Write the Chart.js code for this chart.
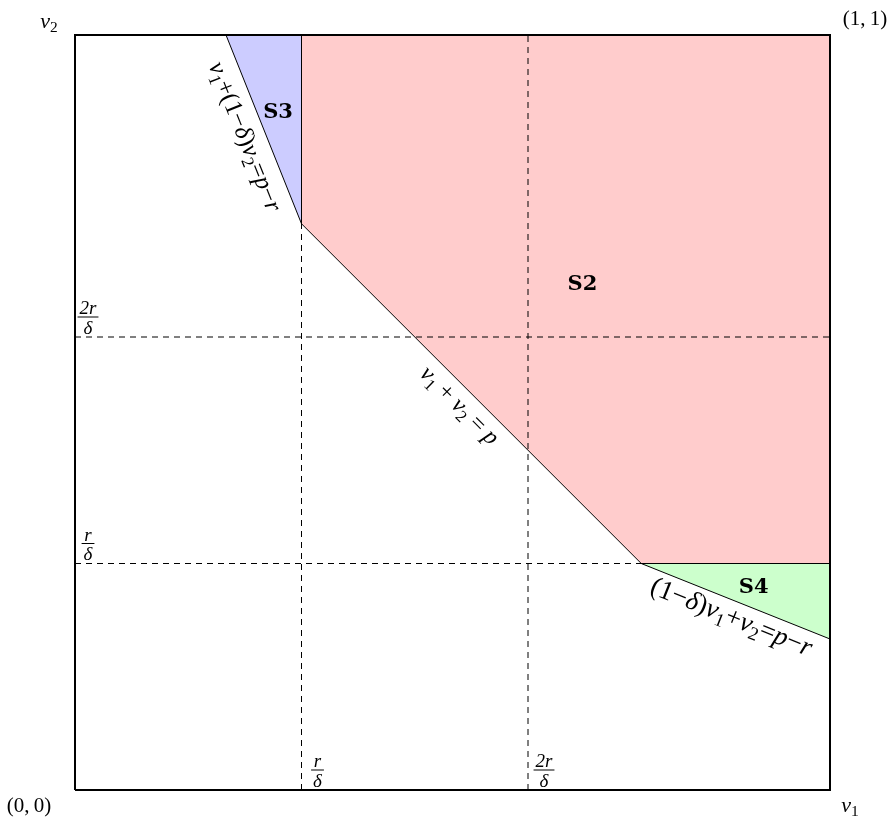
<!DOCTYPE html>
<html>
<head>
<meta charset="utf-8">
<script src="https://cdn.jsdelivr.net/npm/chart.js@4"></script>
<style>
  html, body { margin: 0; padding: 0; background: #fff; }
  canvas { display: block; }
</style>
</head>
<body>
<canvas id="chart" width="895" height="825"></canvas>
<script>
// thresholds r/δ and 2r/δ on both axes
const cuts = [0.3, 0.6];
const cutLabels = [["r", "δ"], ["2r", "δ"]];

// regions (polygon corners in (v1, v2))
const regionS2 = [[0.3, 1], [1, 1], [1, 0.3], [0.75, 0.3], [0.3, 0.75]];
const regionS3 = [[0.2, 1], [0.3, 1], [0.3, 0.75]];
const regionS4 = [[0.75, 0.3], [1, 0.3], [1, 0.2]];

// solid boundary lines
const boundary = [[0.2, 1], [0.3, 0.75], [0.75, 0.3], [1, 0.2]];
const splitS3 = [[0.3, 0.75], [0.3, 1]];
const splitS4 = [[0.75, 0.3], [1, 0.3]];
const square = [[0, 0], [1, 0], [1, 1], [0, 1], [0, 0]];

// region names and where they sit
const regionNames = ["S2", "S3", "S4"];
const regionNamePos = [[0.672, 0.669], [0.269, 0.897], [0.899, 0.2675]];

const toXY = (arr) => arr.map(([x, y]) => ({ x, y }));

// small helper to draw math-like text with subscripts
function mathParts(ctx, parts, size) {
  let w = 0;
  const out = parts.map((p) => {
    const s = p.sub ? size * 0.7 : size;
    const style = p.s === "i" ? "italic " : "";
    const font = style + s + 'px "Liberation Serif", serif';
    ctx.font = font;
    const pw = ctx.measureText(p.t).width;
    const item = { t: p.t, font, x: w, dy: p.sub ? size * 0.28 : 0 };
    w += pw;
    return item;
  });
  return { items: out, width: w };
}

function drawMath(ctx, parts, x, y, size, angle) {
  const m = mathParts(ctx, parts, size);
  ctx.save();
  ctx.translate(x, y);
  ctx.rotate(angle || 0);
  ctx.fillStyle = "#000";
  ctx.textBaseline = "middle";
  ctx.textAlign = "left";
  m.items.forEach((it) => {
    ctx.font = it.font;
    ctx.fillText(it.t, it.x - m.width / 2, it.dy);
  });
  ctx.restore();
}

function drawFrac(ctx, num, den, cx, barY, size) {
  ctx.save();
  ctx.fillStyle = "#000";
  ctx.textAlign = "center";
  ctx.font = "italic " + size + 'px "Liberation Serif", serif';
  const w = Math.max(ctx.measureText(num).width, ctx.measureText(den).width) + 4;
  ctx.textBaseline = "alphabetic";
  ctx.fillText(num, cx, barY - 3);
  ctx.textBaseline = "top";
  ctx.fillText(den, cx, barY + 2);
  ctx.fillRect(cx - w / 2, barY - 0.5, w, 1);
  ctx.restore();
}

const I = (t) => ({ t, s: "i" });
const R = (t) => ({ t, s: "r" });
const Sub = (t) => ({ t, s: "r", sub: true });

const lineLabels = [
  { seg: 0, pos: [0.224, 0.865], size: 25, parts: [I("v"), Sub("1"), R("+(1−"), I("δ"), R(")"), I("v"), Sub("2"), R("="), I("p"), R("−"), I("r")] },
  { seg: 1, pos: [0.5086, 0.5086], size: 24, parts: [I("v"), Sub("1"), R(" + "), I("v"), Sub("2"), R(" = "), I("p")] },
  { seg: 2, pos: [0.869, 0.228], size: 27, parts: [R("(1−"), I("δ"), R(")"), I("v"), Sub("1"), R("+"), I("v"), Sub("2"), R("="), I("p"), R("−"), I("r")] }
];

const labelPlugin = {
  id: "labels",
  afterDatasetsDraw(chart) {
    const ctx = chart.ctx;
    const xs = chart.scales.x;
    const ys = chart.scales.y;
    const px = (v) => xs.getPixelForValue(v);
    const py = (v) => ys.getPixelForValue(v);

    // region names
    regionNames.forEach((name, i) => {
      ctx.save();
      ctx.font = 'bold 21px "DejaVu Serif", serif';
      ctx.fillStyle = "#000";
      ctx.textAlign = "center";
      ctx.textBaseline = "middle";
      ctx.fillText(name, px(regionNamePos[i][0]), py(regionNamePos[i][1]));
      ctx.restore();
    });

    // labels along the boundary lines
    lineLabels.forEach((l) => {
      const a = boundary[l.seg];
      const b = boundary[l.seg + 1];
      const ang = Math.atan2(py(b[1]) - py(a[1]), px(b[0]) - px(a[0]));
      drawMath(ctx, l.parts, px(l.pos[0]), py(l.pos[1]), l.size, ang);
    });

    // threshold fractions
    cuts.forEach((c, i) => {
      drawFrac(ctx, cutLabels[i][0], cutLabels[i][1], px(c) + 16, py(0) - 20, 19);
      drawFrac(ctx, cutLabels[i][0], cutLabels[i][1], px(0) + 13, py(c) - 20, 19);
    });

    // corner / axis labels
    drawMath(ctx, [I("v"), Sub("2")], px(0) - 26, py(1) - 13, 22);
    drawMath(ctx, [I("v"), Sub("1")], px(1) + 20, py(0) + 16, 22);
    drawMath(ctx, [R("(0,\u20090)")], px(0) - 46, py(0) + 16, 21);
    drawMath(ctx, [R("(1,\u20091)")], px(1) + 35, py(1) - 16, 21);
  }
};

const lineDs = (pts, extra) => Object.assign({
  data: toXY(pts),
  showLine: true,
  pointRadius: 0,
  borderColor: "#000",
  borderWidth: 1,
  fill: false,
  tension: 0,
  clip: false
}, extra);

const fillDs = (pts, color) => ({
  data: toXY(pts),
  showLine: true,
  pointRadius: 0,
  borderWidth: 0,
  borderColor: "rgba(0,0,0,0)",
  backgroundColor: color,
  fill: "shape",
  tension: 0
});

new Chart(document.getElementById("chart").getContext("2d"), {
  type: "scatter",
  data: {
    datasets: [
      lineDs(square, { borderWidth: 2 }),
      lineDs(boundary),
      lineDs(splitS3),
      lineDs(splitS4),
      ...cuts.map((c) => lineDs([[c, 0], [c, 1]], { borderDash: [6, 5] })),
      ...cuts.map((c) => lineDs([[0, c], [1, c]], { borderDash: [6, 5] })),
      fillDs(regionS2, "#ffcccc"),
      fillDs(regionS3, "#ccccff"),
      fillDs(regionS4, "#ccffcc")
    ]
  },
  options: {
    responsive: false,
    animation: false,
    layout: { padding: { left: 75, right: 65, top: 35, bottom: 35 } },
    scales: {
      x: { type: "linear", min: 0, max: 1, display: false },
      y: { type: "linear", min: 0, max: 1, display: false }
    },
    plugins: {
      legend: { display: false },
      tooltip: { enabled: false }
    }
  },
  plugins: [labelPlugin]
});
</script>
</body>
</html>
